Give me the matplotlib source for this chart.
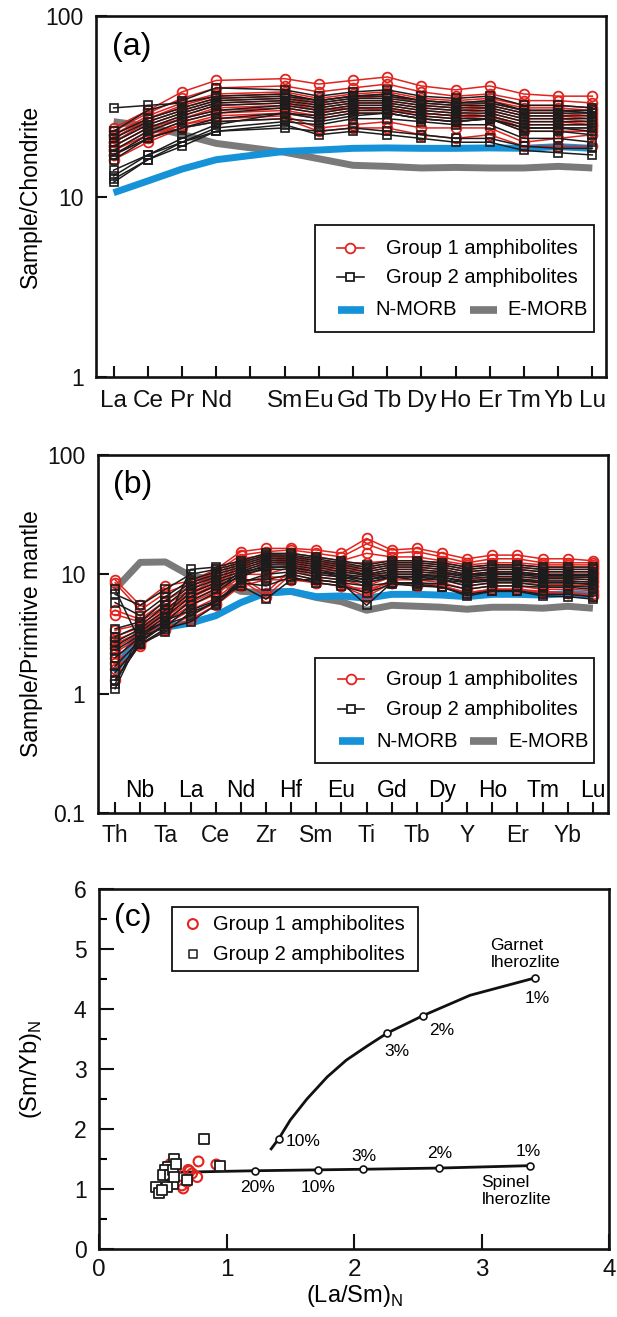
import numpy as np
import matplotlib
matplotlib.use('Agg')
import matplotlib.pyplot as plt
from matplotlib.patches import Rectangle
from matplotlib.ticker import NullLocator, MultipleLocator
from matplotlib.transforms import blended_transform_factory

plt.rcParams['font.family'] = ['Liberation Sans', 'DejaVu Sans']
plt.rcParams['mathtext.fontset'] = 'custom'
plt.rcParams['mathtext.rm'] = 'Liberation Sans'

RED = '#e3231d'
BLACK = '#1c1c1c'
BLUE = '#1592d8'
GREY = '#7a7a7a'

# ---------------- data: chondrite normalised REE (a) ----------------
ree_all = ['La', 'Ce', 'Pr', 'Nd', 'Pm', 'Sm', 'Eu', 'Gd', 'Tb', 'Dy', 'Ho', 'Er', 'Tm', 'Yb', 'Lu']
ree = ['La', 'Ce', 'Pr', 'Nd', 'Sm', 'Eu', 'Gd', 'Tb', 'Dy', 'Ho', 'Er', 'Tm', 'Yb', 'Lu']

nmorb_ree = [10.5, 12.2, 14.2, 16.0, 17.8, 18.1, 18.5, 18.6, 18.5, 18.5, 18.6, 18.5, 18.9, 18.5]
emorb_ree = [26.0, 24.5, 22.1, 19.7, 17.6, 16.2, 14.9, 14.7, 14.4, 14.5, 14.4, 14.4, 14.7, 14.4]

g1_ree = [
    [24, 30, 38, 44, 45, 42, 44, 46, 41, 39, 41, 37, 36, 36],
    [23, 29, 35, 40, 41, 38, 40, 42, 38, 36, 37, 34, 34, 33],
    [22, 28, 33, 37, 38, 35, 37, 38, 35, 34, 35, 32, 32, 31],
    [21, 27, 31, 35, 36, 33, 35, 36, 33, 32, 33, 30, 30, 29],
    [20, 26, 30, 34, 35, 32, 34, 34, 32, 31, 32, 29, 29, 28],
    [20, 25, 29, 33, 34, 31, 33, 33, 31, 30, 31, 28, 28, 27],
    [19, 24, 28, 32, 33, 30, 32, 32, 30, 29, 30, 27, 27, 26],
    [19, 24, 27, 31, 32, 30, 31, 31, 29, 28, 29, 26, 26, 25],
    [18, 23, 27, 30, 31, 29, 31, 30, 29, 28, 28, 25, 25, 25],
    [18, 22, 26, 29, 30, 28, 30, 30, 28, 27, 28, 24, 24, 24],
    [17, 22, 25, 28, 29, 27, 29, 29, 27, 26, 27, 23, 23, 23],
    [17, 21, 25, 27, 28, 24, 25, 26, 24, 24, 24, 20, 21, 22],
    [16, 20, 24, 26, 27, 23, 24, 24, 22, 21, 22, 19, 19, 19],
    [22, 27, 32, 36, 37, 34, 36, 37, 34, 33, 34, 31, 31, 30],
]
g2_ree = [
    [31, 32, 33, 36, 37, 34, 36, 37, 34, 33, 34, 30, 30, 29],
    [23, 30, 34, 40, 39, 36, 38, 39, 36, 35, 36, 32, 32, 31],
    [22, 27, 31, 35, 36, 34, 36, 36, 34, 33, 33, 30, 30, 30],
    [21, 26, 30, 34, 35, 33, 35, 35, 33, 32, 32, 29, 29, 29],
    [20, 25, 29, 33, 34, 32, 34, 34, 32, 31, 31, 28, 28, 28],
    [19, 24, 28, 32, 33, 31, 33, 33, 31, 30, 30, 27, 27, 27],
    [18, 23, 27, 30, 32, 30, 32, 32, 30, 29, 29, 26, 26, 26],
    [17, 22, 26, 29, 31, 29, 31, 31, 29, 28, 28, 25, 25, 25],
    [16, 21, 24, 27, 29, 28, 30, 30, 28, 27, 27, 24, 24, 24],
    [17, 21, 24, 26, 27, 26, 28, 29, 27, 26, 27, 24, 24, 23],
    [14, 17, 21, 25, 29, 27, 29, 29, 27, 26, 27, 23, 23, 22],
    [13, 17, 20, 24, 26, 25, 27, 27, 26, 25, 25, 21, 21, 20],
    [12.5, 16, 20, 23, 25, 22, 23, 22, 21, 20, 20, 18, 17.5, 17],
    [12, 16, 19, 23, 24, 23, 24, 23, 22, 21, 21, 19, 18.5, 18.5],
]

# ---------------- data: primitive mantle normalised (b) ----------------
trace = ['Th', 'Nb', 'Ta', 'La', 'Ce', 'Nd', 'Zr', 'Hf', 'Sm', 'Eu',
         'Ti', 'Gd', 'Tb', 'Dy', 'Y', 'Ho', 'Er', 'Tm', 'Yb', 'Lu']

nmorb_pm = [1.5, 3.5, 3.6, 3.9, 4.5, 5.8, 7.0, 7.2, 6.5, 6.6,
            6.3, 6.8, 6.8, 6.7, 6.5, 6.8, 6.8, 6.7, 6.9, 6.7]
emorb_pm = [7.5, 12.6, 12.7, 9.7, 9.0, 7.2, 7.0, 7.2, 6.4, 5.9,
            5.0, 5.5, 5.4, 5.3, 5.1, 5.3, 5.3, 5.2, 5.4, 5.2]

g1_pm = [
    [9.0, 5.5, 8.0, 8.8, 11.0, 15.5, 16.5, 16.5, 16.0, 15.0, 20.0, 16.0, 16.5, 15.0, 13.5, 14.5, 14.5, 13.5, 13.5, 13.0],
    [8.5, 5.0, 7.0, 8.4, 10.5, 14.5, 15.5, 16.0, 15.0, 14.0, 18.0, 15.0, 15.5, 14.0, 12.5, 13.5, 13.5, 12.5, 12.5, 12.5],
    [5.0, 4.2, 6.0, 8.0, 10.0, 13.5, 14.5, 15.0, 14.0, 13.0, 15.0, 14.0, 14.0, 13.0, 12.0, 12.5, 12.5, 12.0, 12.0, 12.0],
    [4.6, 4.0, 5.5, 7.5, 9.5, 13.0, 14.0, 14.5, 13.0, 12.5, 12.5, 13.0, 13.0, 12.5, 11.5, 12.0, 12.0, 11.5, 11.5, 11.5],
    [3.4, 3.8, 5.2, 7.0, 9.0, 12.5, 13.5, 14.0, 12.5, 12.0, 11.5, 12.5, 12.5, 12.0, 11.0, 11.5, 11.5, 11.0, 11.0, 11.0],
    [3.0, 3.6, 5.0, 6.8, 8.6, 12.0, 13.0, 13.5, 12.0, 11.5, 11.0, 12.0, 12.0, 11.5, 10.5, 11.0, 11.0, 10.5, 10.5, 10.5],
    [2.8, 3.4, 4.8, 6.5, 8.3, 11.5, 12.5, 13.0, 11.5, 11.0, 10.5, 11.5, 11.5, 11.0, 10.0, 10.5, 10.5, 10.0, 10.0, 10.0],
    [2.6, 3.3, 4.6, 6.3, 8.0, 11.0, 12.0, 12.5, 11.0, 10.5, 10.0, 11.0, 11.0, 10.5, 9.5, 10.0, 10.0, 9.5, 9.5, 9.5],
    [2.4, 3.2, 4.4, 6.0, 7.6, 10.5, 11.0, 12.0, 10.5, 10.0, 9.5, 10.5, 10.5, 10.0, 9.0, 9.5, 9.5, 9.2, 9.2, 9.0],
    [2.2, 3.0, 4.2, 5.8, 7.2, 10.0, 10.0, 11.5, 10.0, 9.5, 9.0, 10.0, 10.0, 9.5, 8.6, 9.0, 9.0, 8.8, 8.8, 8.6],
    [2.0, 2.9, 4.0, 5.5, 6.8, 9.5, 7.0, 11.0, 9.5, 9.0, 8.0, 9.5, 9.5, 9.0, 8.0, 8.5, 8.5, 8.2, 8.2, 8.0],
    [1.8, 2.7, 3.8, 5.0, 6.3, 9.0, 6.5, 10.0, 9.0, 8.5, 7.0, 9.0, 9.0, 8.5, 7.5, 8.0, 8.0, 7.5, 7.5, 7.3],
    [1.6, 2.5, 3.5, 4.5, 5.8, 8.5, 9.5, 9.5, 8.5, 8.0, 6.5, 8.5, 8.0, 8.0, 7.0, 7.5, 7.5, 7.0, 7.0, 6.6],
    [1.3, 2.6, 3.4, 4.2, 5.5, 8.0, 9.0, 9.0, 8.5, 8.0, 7.5, 8.5, 8.5, 8.0, 7.0, 7.5, 7.5, 7.2, 7.0, 6.8],
]
g2_pm = [
    [7.5, 2.7, 3.8, 11.0, 11.5, 13.0, 15.0, 15.0, 14.0, 13.0, 12.0, 13.0, 13.0, 12.5, 11.5, 12.0, 12.0, 11.5, 11.5, 11.5],
    [6.8, 5.5, 7.5, 10.0, 11.0, 12.5, 14.5, 14.5, 13.5, 12.5, 11.5, 12.5, 12.5, 12.0, 11.0, 11.5, 11.5, 11.0, 11.0, 11.0],
    [5.8, 4.5, 6.5, 9.0, 10.5, 12.0, 14.0, 14.0, 13.0, 12.0, 11.0, 12.0, 12.0, 11.5, 10.5, 11.0, 11.0, 10.5, 10.5, 10.5],
    [3.5, 4.0, 6.0, 8.5, 10.0, 11.5, 13.5, 13.5, 12.5, 11.5, 10.5, 11.5, 11.5, 11.0, 10.0, 10.5, 10.5, 10.0, 10.0, 10.0],
    [3.0, 3.7, 5.5, 8.0, 9.5, 11.0, 13.0, 13.0, 12.0, 11.0, 10.0, 11.0, 11.0, 10.5, 9.8, 10.2, 10.2, 9.8, 9.8, 9.7],
    [2.7, 3.5, 5.0, 7.5, 9.0, 10.5, 12.5, 12.5, 11.5, 10.5, 9.8, 10.5, 10.5, 10.2, 9.5, 10.0, 10.0, 9.5, 9.5, 9.4],
    [2.5, 3.3, 4.7, 7.0, 8.5, 10.0, 12.0, 12.0, 11.0, 10.0, 9.5, 10.0, 10.0, 9.8, 9.2, 9.6, 9.6, 9.2, 9.2, 9.0],
    [2.3, 3.1, 4.4, 6.5, 8.0, 9.5, 11.5, 11.5, 10.5, 9.6, 9.0, 9.6, 9.6, 9.4, 8.8, 9.2, 9.2, 8.8, 8.8, 8.6],
    [2.0, 3.0, 4.1, 5.0, 6.0, 8.5, 10.0, 10.5, 9.5, 9.0, 8.5, 9.5, 9.0, 9.0, 8.5, 8.8, 8.8, 8.5, 8.5, 8.2],
    [1.7, 2.8, 3.8, 4.5, 6.0, 8.0, 6.2, 9.0, 9.0, 8.5, 5.5, 8.5, 8.5, 8.3, 7.5, 8.0, 8.0, 7.8, 7.8, 7.5],
    [1.5, 2.6, 3.5, 4.0, 5.5, 8.5, 8.0, 9.5, 8.5, 8.0, 7.0, 8.3, 8.0, 7.8, 6.8, 7.3, 7.3, 6.8, 6.8, 6.5],
    [1.3, 2.6, 3.3, 4.8, 5.8, 9.0, 9.0, 10.0, 9.0, 8.5, 8.0, 8.5, 8.3, 7.8, 6.6, 7.2, 7.2, 6.6, 6.5, 6.2],
    [1.1, 3.0, 3.6, 5.5, 7.0, 10.0, 11.0, 11.0, 10.0, 9.5, 8.5, 9.5, 9.5, 9.0, 8.0, 8.5, 8.5, 8.0, 8.0, 7.8],
    [1.2, 3.2, 4.0, 6.0, 7.5, 10.5, 11.5, 11.5, 10.5, 10.0, 9.0, 10.0, 10.0, 9.5, 8.5, 9.0, 9.0, 8.5, 8.5, 8.3],
]

# ---------------- data: (La/Sm)N vs (Sm/Yb)N (c) ----------------
g1_lasm = [0.78, 0.92, 0.70, 0.73, 0.77, 0.69, 0.66, 0.65, 0.60, 0.56, 0.71]
g1_smyb = [1.46, 1.41, 1.32, 1.26, 1.20, 1.12, 1.01, 1.06, 1.32, 1.42, 1.30]
g2_lasm = [0.82, 0.95, 0.59, 0.54, 0.52, 0.50, 0.56, 0.58, 0.69, 0.58, 0.53, 0.45, 0.47, 0.49, 0.59, 0.60]
g2_smyb = [1.83, 1.38, 1.50, 1.37, 1.32, 1.24, 1.23, 1.32, 1.15, 1.09, 1.04, 1.04, 0.93, 0.98, 1.20, 1.42]

garnet_x = [1.35, 1.41, 1.50, 1.63, 1.79, 1.94, 2.10, 2.26, 2.54, 2.91, 3.42]
garnet_y = [1.67, 1.84, 2.15, 2.50, 2.87, 3.15, 3.38, 3.60, 3.89, 4.23, 4.52]
garnet_pts_x = [1.41, 2.26, 2.54, 3.42]
garnet_pts_y = [1.84, 3.60, 3.89, 4.52]
garnet_lab = ['10%', '3%', '2%', '1%']
garnet_lab_x = [1.60, 2.34, 2.69, 3.44]
garnet_lab_y = [1.79, 3.30, 3.65, 4.17]

spinel_x = [0.62, 1.22, 1.72, 2.07, 2.67, 3.38]
spinel_y = [1.28, 1.305, 1.32, 1.33, 1.35, 1.39]
spinel_pts_x = [1.22, 1.72, 2.07, 2.67, 3.38]
spinel_pts_y = [1.305, 1.32, 1.33, 1.35, 1.39]
spinel_lab = ['20%', '10%', '3%', '2%', '1%']
spinel_lab_x = [1.24, 1.72, 2.08, 2.67, 3.37]
spinel_lab_y = [1.02, 1.03, 1.54, 1.60, 1.62]


def frame(ax):
    for s in ax.spines.values():
        s.set_linewidth(1.9)
        s.set_color('#111111')
    ax.tick_params(direction='in', length=8, width=1.5, colors='#111111')


def legend_lines(ax, box, rows, fs=14.5):
    x0, y0, x1, y1 = box
    ax.add_patch(Rectangle((x0, y0), x1 - x0, y1 - y0, transform=ax.transAxes,
                           facecolor='white', edgecolor='#111111', lw=1.3, zorder=20))
    for kind, hx0, hx1, y, label, tx, color in rows:
        if kind == 'bar':
            ax.plot([hx0, hx1], [y, y], transform=ax.transAxes, color=color, lw=5.5,
                    solid_capstyle='butt', zorder=21)
        else:
            ax.plot([hx0, hx1], [y, y], transform=ax.transAxes, color=color, lw=1.2, zorder=21)
            ax.plot([(hx0 + hx1) / 2], [y], transform=ax.transAxes, marker=kind, ms=7 if kind == 'o' else 6,
                    mfc='white', mec=color, mew=1.3, zorder=22)
        ax.text(tx, y, label, transform=ax.transAxes, fontsize=fs, va='center', ha='left', zorder=23)


fig = plt.figure(figsize=(6.17, 13.17), dpi=100)

# ---------------- (a) ----------------
ax = fig.add_axes([0.1564, 0.7137, 0.8258, 0.2741])
xr = [ree_all.index(e) for e in ree]
ax.plot(xr, emorb_ree, color=GREY, lw=5, zorder=1, solid_capstyle='butt')
ax.plot(xr, nmorb_ree, color=BLUE, lw=5, zorder=1, solid_capstyle='butt')
for row in g1_ree:
    ax.plot(xr, row, color=RED, lw=1.1, marker='o', ms=7, mfc='none', mec=RED, mew=1.3, zorder=2)
for row in g2_ree:
    ax.plot(xr, row, color=BLACK, lw=1.1, marker='s', ms=6, mfc='none', mec=BLACK, mew=1.2, zorder=3)
ax.set_yscale('log')
ax.set_ylim(1, 100)
ax.set_xlim(-0.5, 14.4)
ax.set_yticks([1, 10, 100])
ax.set_yticklabels(['1', '10', '100'])
ax.yaxis.set_minor_locator(NullLocator())
ax.set_xticks(range(len(ree_all)))
ax.set_xticklabels(['' if e == 'Pm' else e for e in ree_all])
frame(ax)
ax.tick_params(axis='x', labelsize=17.5, pad=9)
ax.tick_params(axis='y', labelsize=16.5, pad=9)
ax.set_ylabel('Sample/Chondrite', fontsize=16.5)
ax.yaxis.set_label_coords(-0.107, 0.5)
ax.text(0.03, 0.915, '(a)', transform=ax.transAxes, fontsize=23, va='center', ha='left')
legend_lines(ax, (0.429, 0.125, 0.976, 0.421), [
    ('o', 0.472, 0.525, 0.357, 'Group 1 amphibolites', 0.568, RED),
    ('s', 0.472, 0.525, 0.277, 'Group 2 amphibolites', 0.568, BLACK),
    ('bar', 0.474, 0.525, 0.186, 'N-MORB', 0.548, BLUE),
    ('bar', 0.733, 0.786, 0.186, 'E-MORB', 0.807, GREY),
])

# ---------------- (b) ----------------
ax = fig.add_axes([0.1588, 0.3827, 0.8266, 0.2718])
xt = np.arange(len(trace))
ax.plot(xt, emorb_pm, color=GREY, lw=5, zorder=1, solid_capstyle='butt')
ax.plot(xt, nmorb_pm, color=BLUE, lw=5, zorder=1, solid_capstyle='butt')
for row in g1_pm:
    ax.plot(xt, row, color=RED, lw=1.1, marker='o', ms=7, mfc='none', mec=RED, mew=1.3, zorder=2)
for row in g2_pm:
    ax.plot(xt, row, color=BLACK, lw=1.1, marker='s', ms=6, mfc='none', mec=BLACK, mew=1.2, zorder=3)
ax.set_yscale('log')
ax.set_ylim(0.1, 100)
ax.set_xlim(-0.68, 19.6)
ax.set_yticks([0.1, 1, 10, 100])
ax.set_yticklabels(['0.1', '1', '10', '100'])
ax.yaxis.set_minor_locator(NullLocator())
ax.set_xticks(xt)
ax.set_xticklabels([e if i % 2 == 0 else '' for i, e in enumerate(trace)])
frame(ax)
ax.tick_params(axis='x', labelsize=16.5, pad=8)
ax.tick_params(axis='y', labelsize=16.5, pad=9)
trans = blended_transform_factory(ax.transData, ax.transAxes)
for i, e in enumerate(trace):
    if i % 2 == 1:
        ax.text(i, 0.064, e, transform=trans, fontsize=16.5, ha='center', va='center')
ax.set_ylabel('Sample/Primitive mantle', fontsize=16.5)
ax.yaxis.set_label_coords(-0.108, 0.5)
ax.text(0.03, 0.915, '(b)', transform=ax.transAxes, fontsize=23, va='center', ha='left')
legend_lines(ax, (0.425, 0.14, 0.973, 0.433), [
    ('o', 0.47, 0.522, 0.374, 'Group 1 amphibolites', 0.565, RED),
    ('s', 0.47, 0.522, 0.290, 'Group 2 amphibolites', 0.565, BLACK),
    ('bar', 0.472, 0.522, 0.201, 'N-MORB', 0.545, BLUE),
    ('bar', 0.73, 0.782, 0.201, 'E-MORB', 0.805, GREY),
])

# ---------------- (c) ----------------
ax = fig.add_axes([0.1605, 0.0516, 0.8266, 0.2733])
ax.plot(garnet_x, garnet_y, color='#111111', lw=2, zorder=2)
ax.plot(garnet_pts_x, garnet_pts_y, ls='none', marker='o', ms=5, mfc='white', mec='#111111', mew=1.2, zorder=3)
ax.plot(spinel_x, spinel_y, color='#111111', lw=2, zorder=2)
ax.plot(spinel_pts_x, spinel_pts_y, ls='none', marker='o', ms=5, mfc='white', mec='#111111', mew=1.2, zorder=3)
for lab, x, y in zip(garnet_lab, garnet_lab_x, garnet_lab_y):
    ax.text(x, y, lab, fontsize=12.5, ha='center', va='center')
for lab, x, y in zip(spinel_lab, spinel_lab_x, spinel_lab_y):
    ax.text(x, y, lab, fontsize=12.5, ha='center', va='center')
ax.text(3.07, 4.92, 'Garnet\nlherozlite', fontsize=12.5, ha='left', va='center', linespacing=1.15)
ax.text(3.0, 0.97, 'Spinel\nlherozlite', fontsize=12.5, ha='left', va='center', linespacing=1.15)
ax.scatter(g1_lasm, g1_smyb, s=50, facecolors='none', edgecolors=RED, linewidths=1.5, zorder=4)
ax.scatter(g2_lasm, g2_smyb, s=58, marker='s', facecolors='white', edgecolors=BLACK, linewidths=1.3, zorder=5)
ax.set_xlim(0, 4)
ax.set_ylim(0, 6)
ax.set_xticks([0, 1, 2, 3, 4])
ax.set_yticks([0, 1, 2, 3, 4, 5, 6])
ax.yaxis.set_minor_locator(MultipleLocator(0.5))
frame(ax)
ax.tick_params(which='major', length=11)
ax.tick_params(which='minor', direction='in', length=6, width=1.5)
ax.tick_params(axis='x', labelsize=17.5, pad=7)
ax.tick_params(axis='y', labelsize=16.5, pad=9)
ax.set_ylabel(r'(Sm/Yb)$_\mathregular{N}$', fontsize=17)
ax.yaxis.set_label_coords(-0.108, 0.5)
ax.set_xlabel(r'(La/Sm)$_\mathregular{N}$', fontsize=17)
ax.xaxis.set_label_coords(0.5, -0.095)
ax.text(0.03, 0.92, '(c)', transform=ax.transAxes, fontsize=23, va='center', ha='left')
ax.add_patch(Rectangle((0.143, 0.772), 0.626 - 0.143, 0.95 - 0.772, transform=ax.transAxes,
                       facecolor='white', edgecolor='#111111', lw=1.3, zorder=20))
ax.scatter([0.184], [0.903], transform=ax.transAxes, s=50, facecolors='none', edgecolors=RED,
           linewidths=1.5, zorder=21)
ax.scatter([0.184], [0.819], transform=ax.transAxes, s=30, marker='s', facecolors='white',
           edgecolors=BLACK, linewidths=1.1, zorder=21)
ax.text(0.223, 0.903, 'Group 1 amphibolites', transform=ax.transAxes, fontsize=14.5, va='center', zorder=22)
ax.text(0.223, 0.819, 'Group 2 amphibolites', transform=ax.transAxes, fontsize=14.5, va='center', zorder=22)

fig.savefig('out.png', dpi=100)
